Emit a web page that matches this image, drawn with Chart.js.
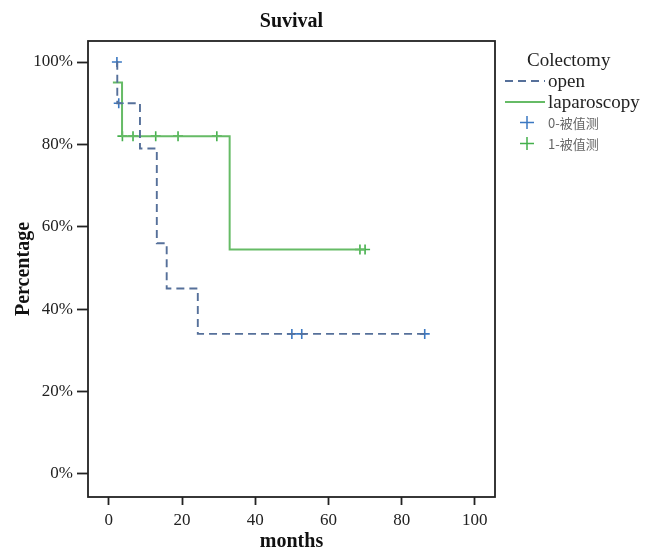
<!DOCTYPE html>
<html lang="en">
<head>
  <meta charset="UTF-8">
  <title>Suvival</title>
  <script src="https://cdn.jsdelivr.net/npm/chart.js"></script>
  <style>
    html, body { margin: 0; padding: 0; background: #fff; }
    .wrap { position: relative; width: 653px; height: 551px; font-family: 'Liberation Serif', 'DejaVu Serif', serif; }
    canvas { position: absolute; left: 0; top: 0; }
    .legend { position: absolute; left: 503px; top: 49px; color: #222; }
    .legend .head { font-size: 19px; margin-left: 24px; height: 21px; line-height: 22px; }
    .legend .row { display: flex; align-items: center; height: 21px; font-size: 19px; }
    .legend .sample { position: static; width: 42px; height: 21px; margin-right: 3px; }
    .legend .small { font-family: 'Noto Sans CJK SC', sans-serif; font-size: 13px; color: #666; }
  </style>
</head>
<body>
  <div class="wrap">
    <canvas id="km" width="653" height="551"></canvas>
    <div class="legend">
      <div class="head">Colectomy</div>
      <div class="row"><canvas class="sample" id="lg0" width="42" height="21"></canvas><span>open</span></div>
      <div class="row"><canvas class="sample" id="lg1" width="42" height="21"></canvas><span>laparoscopy</span></div>
      <div class="row"><canvas class="sample" id="lg2" width="42" height="21"></canvas><span class="small">0-被值测</span></div>
      <div class="row"><canvas class="sample" id="lg3" width="42" height="21"></canvas><span class="small">1-被值测</span></div>
    </div>
  </div>

  <script>
    // Kaplan-Meier steps (months, percent surviving)
    const openTimes = [2.2, 2.3, 8.5, 13.1, 15.8, 24.3, 86.3];
    const openSurv  = [100, 90, 79, 56, 45, 34, 34];
    const lapTimes  = [1.1, 3.6, 33, 70];
    const lapSurv   = [95, 82, 54.5, 54.5];

    // censored observations
    const openCensorTimes = [2.2, 2.7, 50, 52.7, 86.3];
    const openCensorSurv  = [100, 90, 34, 34, 34];
    const lapCensorTimes  = [3.7, 6.6, 12.8, 18.9, 29.5, 68.6, 70];
    const lapCensorSurv   = [82, 82, 82, 82, 82, 54.5, 54.5];

    const xTicks = [0, 20, 40, 60, 80, 100];
    const yTicks = [0, 20, 40, 60, 80, 100];

    const openColor = '#56709a', lapColor = '#66bb66';
    const openCross = '#3b78c2', lapCross = '#44b04c';
    const serif = 'Liberation Serif';

    const pts = (xs, ys) => xs.map((x, i) => ({ x: x, y: ys[i] }));

    // frame around the plot area
    const frame = {
      id: 'frame',
      afterDraw(chart) {
        const { ctx, chartArea: a } = chart;
        ctx.save();
        ctx.strokeStyle = '#222';
        ctx.lineWidth = 1.8;
        ctx.strokeRect(a.left, a.top, a.right - a.left, a.bottom - a.top);
        ctx.restore();
      }
    };

    new Chart(document.getElementById('km'), {
      type: 'scatter',
      data: {
        datasets: [
          { label: 'open', data: pts(openTimes, openSurv), showLine: true, stepped: true,
            borderColor: openColor, borderWidth: 1.9, borderDash: [8, 5], pointRadius: 0 },
          { label: 'laparoscopy', data: pts(lapTimes, lapSurv), showLine: true, stepped: true,
            borderColor: lapColor, borderWidth: 2, pointRadius: 0 },
          { label: '0-被值测', data: pts(openCensorTimes, openCensorSurv), showLine: false,
            pointStyle: 'cross', pointRadius: 5, borderColor: openCross, pointBorderWidth: 1.6 },
          { label: '1-被值测', data: pts(lapCensorTimes, lapCensorSurv), showLine: false,
            pointStyle: 'cross', pointRadius: 5, borderColor: lapCross, pointBorderWidth: 1.6 }
        ]
      },
      options: {
        responsive: false,
        animation: false,
        layout: { padding: { left: 0, right: 158, top: 0, bottom: 0 } },
        plugins: {
          legend: { display: false },
          tooltip: { enabled: false },
          title: {
            display: true, text: 'Suvival', fullSize: false, color: '#111',
            font: { family: serif, size: 20, weight: 'bold' },
            padding: { top: 10, bottom: 7 }
          }
        },
        scales: {
          x: {
            type: 'linear', min: -5.7, max: 105.5,
            afterBuildTicks: s => { s.ticks = xTicks.map(v => ({ value: v })); },
            afterFit: s => { s.height = 54; },
            grid: { drawOnChartArea: false, tickLength: 8, tickWidth: 1.8, tickColor: '#222' },
            border: { display: false },
            ticks: { color: '#222', padding: 5, font: { family: serif, size: 17 } },
            title: { display: true, text: 'months', color: '#111',
                     font: { family: serif, size: 20, weight: 'bold' }, padding: { top: 0, bottom: -3 } }
          },
          y: {
            type: 'linear', min: -5.6, max: 105.1,
            afterBuildTicks: s => { s.ticks = yTicks.map(v => ({ value: v })); },
            afterFit: s => { s.width = 88; },
            grid: { drawOnChartArea: false, tickLength: 11, tickWidth: 1.8, tickColor: '#222' },
            border: { display: false },
            ticks: { color: '#222', padding: 4, font: { family: serif, size: 17 }, callback: v => v + '%' },
            title: { display: true, text: 'Percentage', color: '#111',
                     font: { family: serif, size: 20, weight: 'bold' }, padding: { top: 12, bottom: 0 } }
          }
        }
      },
      plugins: [frame]
    });

    // legend samples
    function sample(id, draw) {
      const c = document.getElementById(id).getContext('2d');
      draw(c);
    }
    sample('lg0', c => { c.strokeStyle = openColor; c.lineWidth = 1.9; c.setLineDash([8, 5]);
      c.beginPath(); c.moveTo(2, 11); c.lineTo(44, 11); c.stroke(); });
    sample('lg1', c => { c.strokeStyle = lapColor; c.lineWidth = 2;
      c.beginPath(); c.moveTo(2, 11); c.lineTo(44, 11); c.stroke(); });
    [['lg2', openCross], ['lg3', lapCross]].forEach(([id, col]) => sample(id, c => {
      c.strokeStyle = col; c.lineWidth = 1.5; c.beginPath();
      c.moveTo(17, 10.5); c.lineTo(31, 10.5); c.moveTo(24, 4); c.lineTo(24, 17); c.stroke();
    }));
  </script>
</body>
</html>
